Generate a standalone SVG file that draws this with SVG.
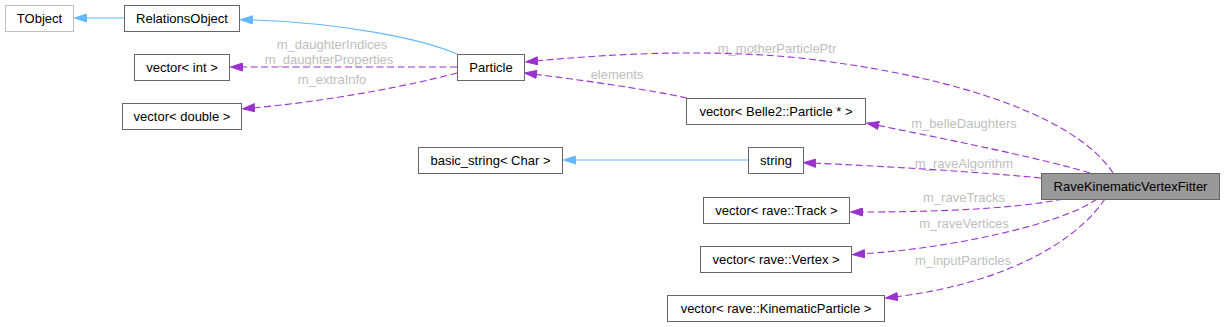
<svg xmlns="http://www.w3.org/2000/svg" width="1224" height="327" viewBox="0 0 1224 327">
<style>
text{font-family:"Liberation Sans",Arial,Helvetica,sans-serif;font-size:13px;}
.node rect{fill:#ffffff;stroke:#666666;stroke-width:1;}
.node text{fill:#000000;text-anchor:middle;}
.lbl{fill:#bebebe;text-anchor:middle;}
.inh{fill:none;stroke:#63b8ff;stroke-width:1.1;}
.use{fill:none;stroke:#9a32cd;stroke-width:1.1;stroke-dasharray:7,3.5;}
</style>
<defs>
<marker id="ab" viewBox="0 0 13 9" refX="0" refY="4.5" markerUnits="userSpaceOnUse" markerWidth="13" markerHeight="9" orient="auto"><path d="M0.5,0.5 L12.5,4.5 L0.5,8.5 z" fill="#63b8ff" stroke="#63b8ff"/></marker>
<marker id="ap" viewBox="0 0 13 9" refX="0" refY="4.5" markerUnits="userSpaceOnUse" markerWidth="13" markerHeight="9" orient="auto"><path d="M0.5,0.5 L12.5,4.5 L0.5,8.5 z" fill="#9a32cd" stroke="#9a32cd"/></marker>
</defs>
<rect width="1224" height="327" fill="#ffffff"/>
<g id="edges">
<path class="inh" d="M124,18 L87,18" marker-end="url(#ab)"/>
<path class="inh" d="M457,54 C420,38 340,23 253,20" marker-end="url(#ab)"/>
<path class="inh" d="M748,160 L576,160" marker-end="url(#ab)"/>
<path class="use" d="M457,67 L243,67" marker-end="url(#ap)"/>
<path class="use" d="M457,73 C400,88 320,102 255,107.7" marker-end="url(#ap)"/>
<path class="use" d="M1113,173 C1075,115 950,75 800,58 C700,48 600,55 538,60.8" marker-end="url(#ap)"/>
<path class="use" d="M687,98 C640,88 580,80 537,74.5" marker-end="url(#ap)"/>
<path class="use" d="M1090,173 C1040,158 950,140 879,125.6" marker-end="url(#ap)"/>
<path class="use" d="M1041,178 C980,172 880,166 816,163.2" marker-end="url(#ap)"/>
<path class="use" d="M1063,199 C1010,210 920,212 863,212" marker-end="url(#ap)"/>
<path class="use" d="M1097,199 C1060,225 950,248 865,253.7" marker-end="url(#ap)"/>
<path class="use" d="M1105,199 C1070,250 990,285 898,296.5" marker-end="url(#ap)"/>
<text class="lbl" x="332" y="48.5">m_daughterIndices</text>
<text class="lbl" x="329" y="63.5">m_daughterProperties</text>
<text class="lbl" x="332" y="83.5">m_extraInfo</text>
<text class="lbl" x="777" y="52.5">m_motherParticlePtr</text>
<text class="lbl" x="617" y="78.5">elements</text>
<text class="lbl" x="964" y="127.5">m_belleDaughters</text>
<text class="lbl" x="964" y="167.5">m_raveAlgorithm</text>
<text class="lbl" x="964" y="201.5">m_raveTracks</text>
<text class="lbl" x="964" y="227.5">m_raveVertices</text>
<text class="lbl" x="963" y="264.5">m_inputParticles</text>
</g>
<g id="TObject" class="node"><rect x="5.5" y="5.5" width="68" height="26" style="stroke:#bfbfbf"/><text x="39.5" y="23">TObject</text></g>
<g id="RelationsObject" class="node"><rect x="124.5" y="5.5" width="115" height="26"/><text x="182" y="23">RelationsObject</text></g>
<g id="vector_int" class="node"><rect x="134.5" y="54.5" width="95" height="26"/><text x="182" y="72">vector&lt; int &gt;</text></g>
<g id="vector_double" class="node"><rect x="122.5" y="103.5" width="119" height="26"/><text x="182" y="121">vector&lt; double &gt;</text></g>
<g id="Particle" class="node"><rect x="457.5" y="54.5" width="67" height="26"/><text x="491" y="72">Particle</text></g>
<g id="vector_Belle2_Particle" class="node"><rect x="686.5" y="98.5" width="179" height="26"/><text x="776" y="116">vector&lt; Belle2::Particle * &gt;</text></g>
<g id="basic_string" class="node"><rect x="418.5" y="147.5" width="144" height="26"/><text x="490.5" y="165">basic_string&lt; Char &gt;</text></g>
<g id="string" class="node"><rect x="748.5" y="147.5" width="55" height="26"/><text x="776" y="165">string</text></g>
<g id="RaveKinematicVertexFitter" class="node"><rect x="1041.5" y="173.5" width="178" height="26" style="fill:#999999"/><text x="1130.5" y="191">RaveKinematicVertexFitter</text></g>
<g id="vector_rave_Track" class="node"><rect x="703.5" y="197.5" width="146" height="26"/><text x="776.5" y="215">vector&lt; rave::Track &gt;</text></g>
<g id="vector_rave_Vertex" class="node"><rect x="700.5" y="246.5" width="151" height="26"/><text x="776" y="264">vector&lt; rave::Vertex &gt;</text></g>
<g id="vector_rave_KinematicParticle" class="node"><rect x="667.5" y="295.5" width="217" height="26"/><text x="776" y="313">vector&lt; rave::KinematicParticle &gt;</text></g>
</svg>
